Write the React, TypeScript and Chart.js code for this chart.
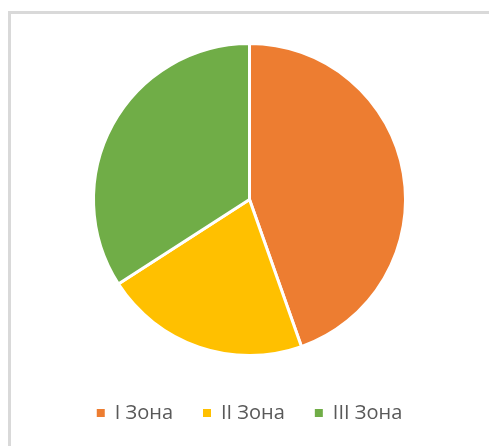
import React, { useEffect, useRef } from "react";
import { Chart, registerables } from "chart.js";

Chart.register(...registerables);

const categories: string[] = ["I Зона", "II Зона", "III Зона"];
const values: number[] = [44.6, 21.3, 34.1];
const colors: string[] = ["#ED7D31", "#FFC000", "#70AD47"];

export default function App() {
  const ref = useRef<HTMLCanvasElement | null>(null);
  useEffect(() => {
    if (!ref.current) return;
    const defaultGen = (Chart as any).overrides.pie.plugins.legend.labels.generateLabels;
    const chart = new Chart(ref.current, {
      type: "pie",
      data: {
        labels: categories,
        datasets: [
          {
            data: values,
            backgroundColor: colors,
            borderColor: "#ffffff",
            borderWidth: 3,
            radius: 156,
          },
        ],
      },
      options: {
        responsive: false,
        animation: false,
        layout: { padding: { top: 12, bottom: 13, left: 0, right: 0 } },
        plugins: {
          tooltip: { enabled: false },
          legend: {
            position: "bottom",
            labels: {
              boxWidth: 8,
              boxHeight: 8,
              padding: 30,
              color: "#595959",
              font: { family: "'Open Sans', sans-serif", size: 20 },
              generateLabels: (c: any) =>
                defaultGen(c).map((it: any) => ({ ...it, lineWidth: 0, strokeStyle: it.fillStyle })),
            },
          },
        },
      },
    });
    return () => chart.destroy();
  }, []);
  return (
    <div style={{ position: "fixed", left: 0, top: 0, width: 489, height: 446, overflow: "hidden", background: "#fff" }}>
      <div
        style={{
          position: "absolute",
          left: 8,
          top: 11,
          width: 600,
          height: 600,
          borderTop: "3px solid #d9d9d9",
          borderLeft: "3px solid #d9d9d9",
          boxSizing: "border-box",
        }}
      />
      <canvas
        ref={ref}
        width={477}
        height={432}
        style={{ position: "absolute", left: 11, top: 14, width: 477, height: 432 }}
      />
    </div>
  );
}
